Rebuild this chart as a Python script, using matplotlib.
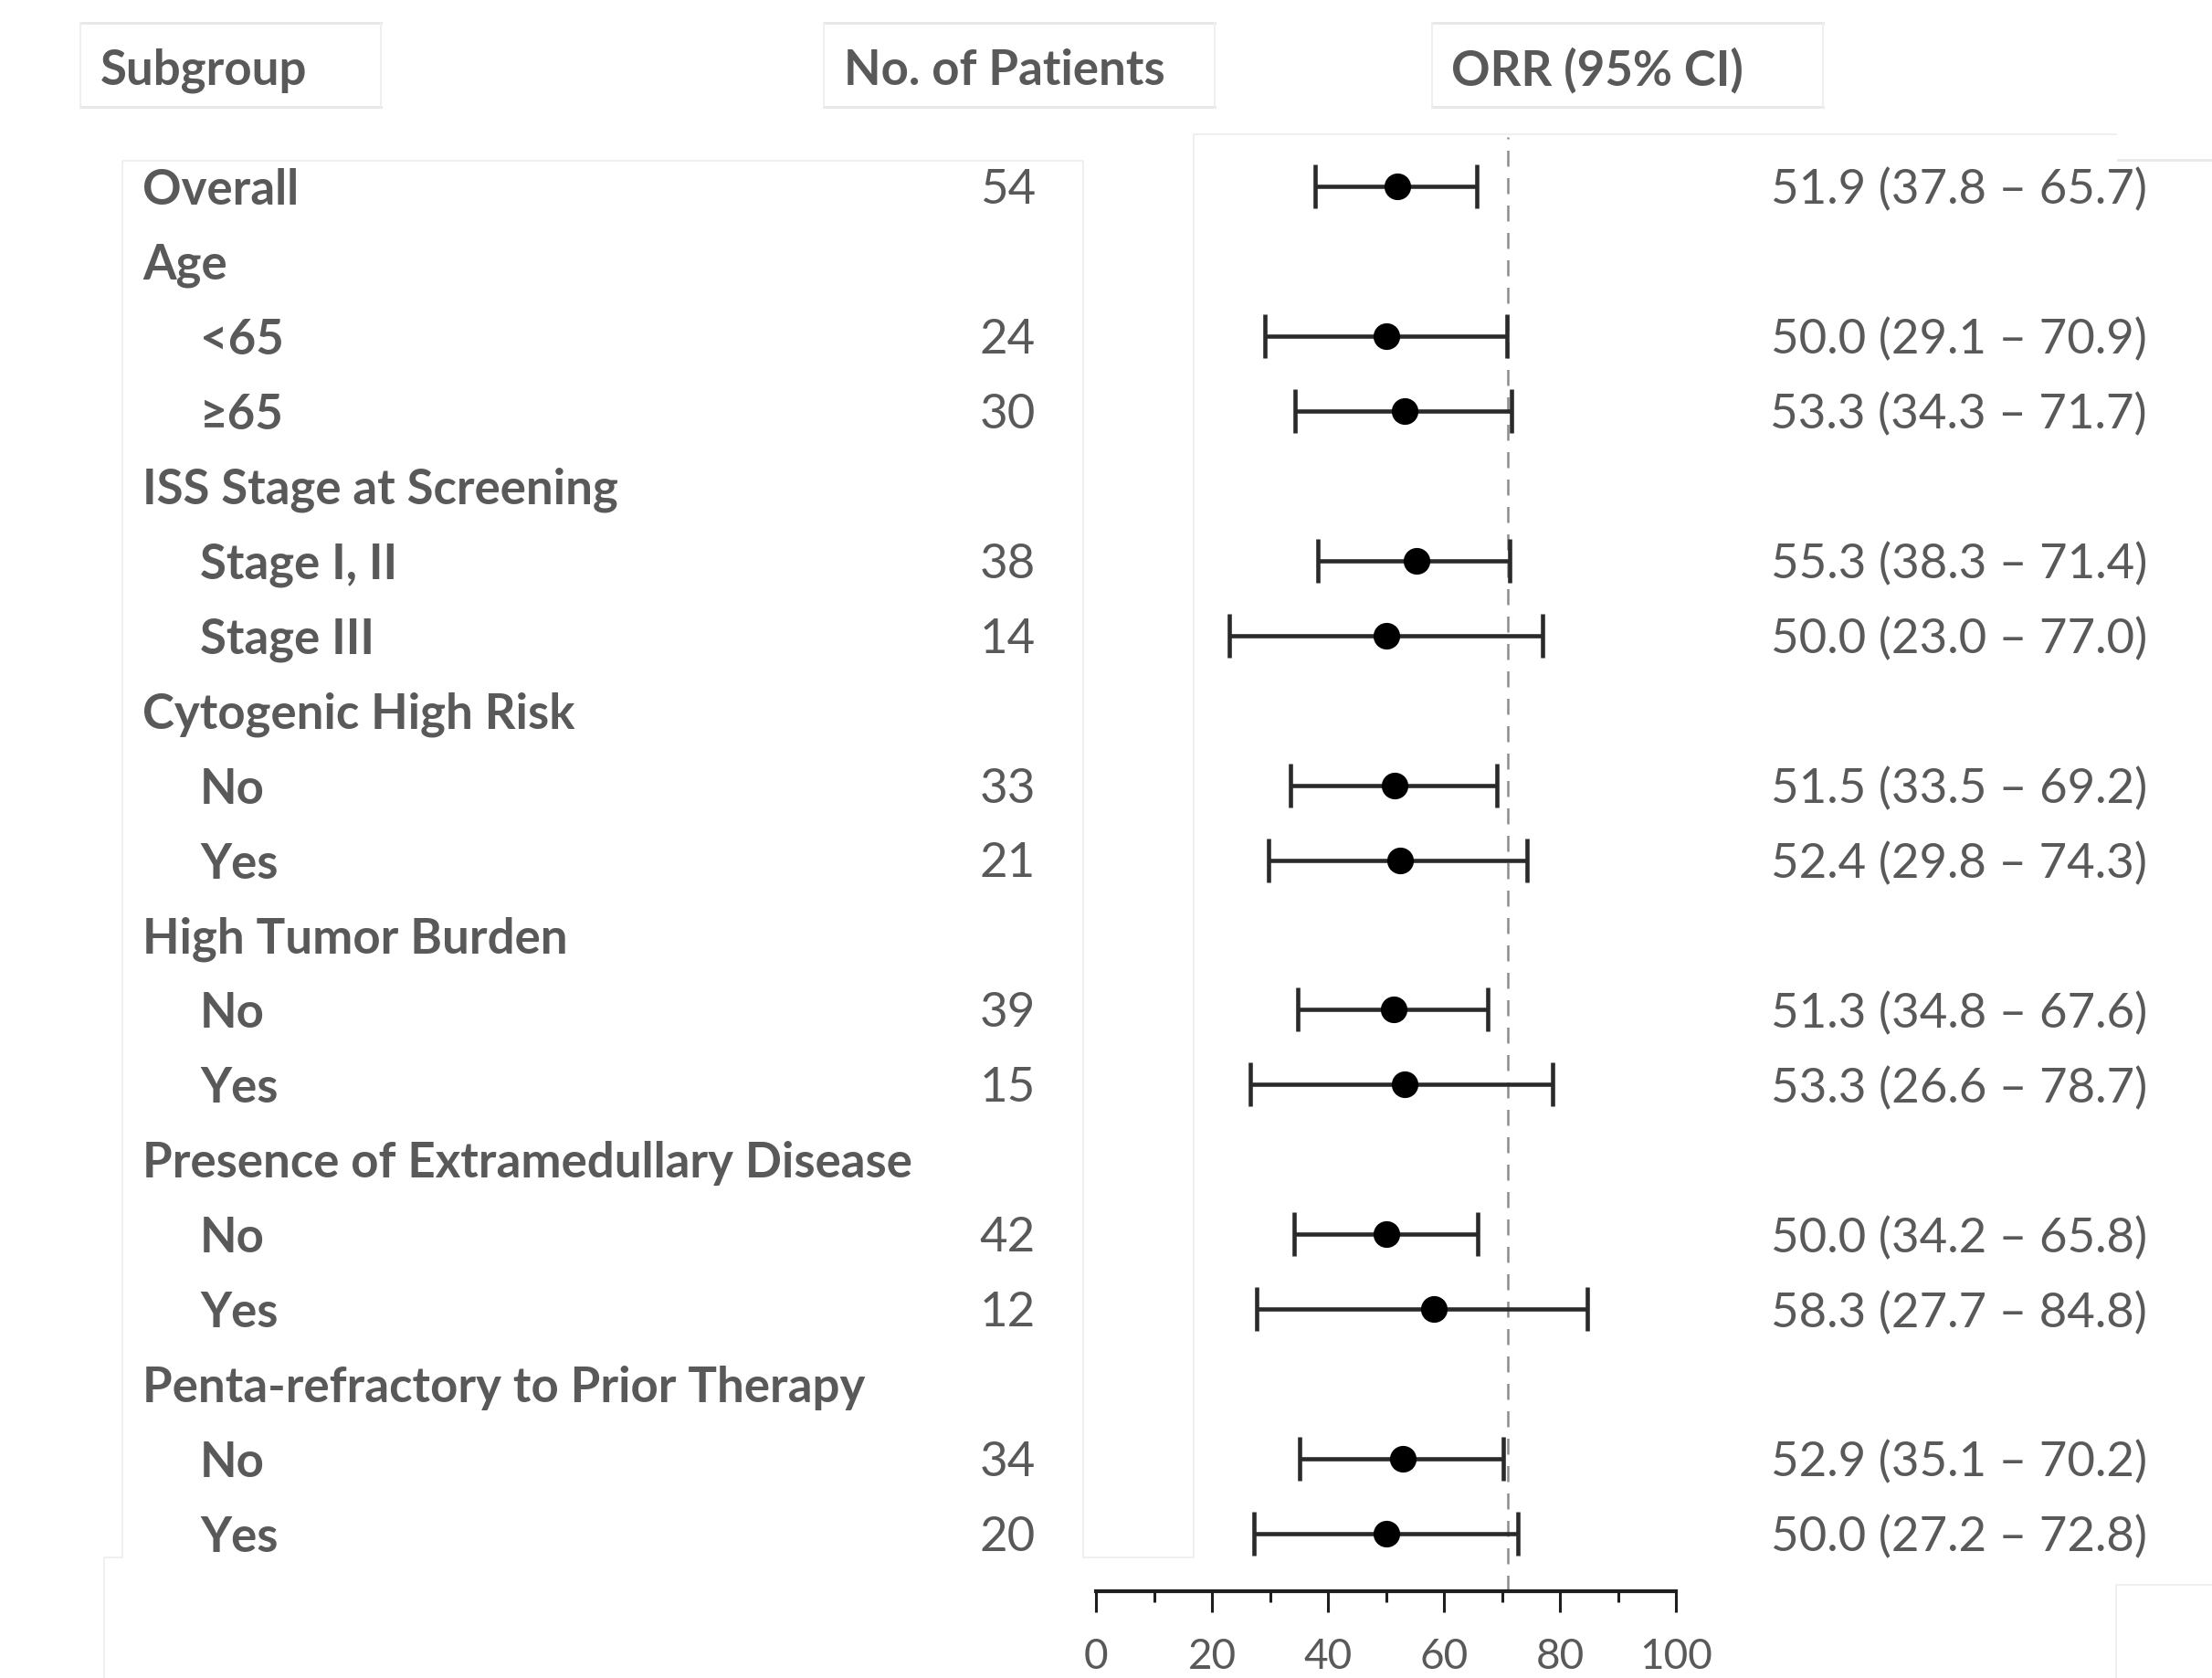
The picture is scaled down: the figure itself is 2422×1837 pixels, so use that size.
import matplotlib
matplotlib.use("Agg")
import matplotlib.pyplot as plt
import matplotlib.transforms as mtransforms
import numpy as np

# ---- data ----
labels = ["Overall", "Age", "<65", "\u226565", "ISS Stage at Screening", "Stage I, II",
          "Stage III", "Cytogenic High Risk", "No", "Yes", "High Tumor Burden", "No", "Yes",
          "Presence of Extramedullary Disease", "No", "Yes",
          "Penta-refractory to Prior Therapy", "No", "Yes"]
indent = [0, 0, 1, 1, 0, 1, 1, 0, 1, 1, 0, 1, 1, 0, 1, 1, 0, 1, 1]
n_patients = ["54", "", "24", "30", "", "38", "14", "", "33", "21", "", "39", "15",
              "", "42", "12", "", "34", "20"]
orr = [51.9, None, 50.0, 53.3, None, 55.3, 50.0, None, 51.5, 52.4, None, 51.3, 53.3,
       None, 50.0, 58.3, None, 52.9, 50.0]
ci_low = [37.8, None, 29.1, 34.3, None, 38.3, 23.0, None, 33.5, 29.8, None, 34.8, 26.6,
          None, 34.2, 27.7, None, 35.1, 27.2]
ci_high = [65.7, None, 70.9, 71.7, None, 71.4, 77.0, None, 69.2, 74.3, None, 67.6, 78.7,
           None, 65.8, 84.8, None, 70.2, 72.8]
ref_line = 71
headers = ["Subgroup", "No. of Patients", "ORR (95% CI)"]
xticks_major = [0, 20, 40, 60, 80, 100]
xticks_minor = [10, 30, 50, 70, 90]

W, H = 2422, 1837
TXT = "#595959"
FONT = "Lato"

fig = plt.figure(figsize=(W / 100, H / 100), dpi=100)

# background axes in pixel coordinates for the faint slide frames
bg = fig.add_axes([0, 0, 1, 1])
bg.set_xlim(0, W)
bg.set_ylim(H, 0)
bg.axis("off")
faint = dict(color="#efefef", lw=1.4)
for x0, x1 in [(88, 417), (902, 1330), (1568, 1996)]:
    bg.plot([x0, x1], [25, 25], color="#e8e8e8", lw=2.2)
    bg.plot([x0, x1], [117, 117], color="#e8e8e8", lw=2.2)
    bg.plot([x0, x0], [25, 117], **faint)
    bg.plot([x1, x1], [25, 117], **faint)
bg.plot([134, 134, 1186, 1186], [1705, 176, 176, 1705], **faint)
bg.plot([1186, 1307, 1307], [1705, 1705, 147], **faint)
bg.plot([1307, 2317], [147, 147], **faint)
bg.plot([134, 114, 114], [1705, 1705, H], **faint)
bg.plot([2319, W], [175, 175], color="#e8e8e8", lw=2)
bg.plot([2317, 2317, W], [H, 1735, 1735], **faint)

# forest plot axes
x0_px, x100_px = 1200, 1835
top_px, axis_px = 150, 1742
row0_px, row18_px = 204, 1679
step = (row18_px - row0_px) / 18
ax = fig.add_axes([x0_px / W, 1 - axis_px / H, (x100_px - x0_px) / W, (axis_px - top_px) / H])
ax.set_xlim(0, 100)
ax.set_ylim(18 + (axis_px - row18_px) / step, -(row0_px - top_px) / step)
ax.patch.set_alpha(0)

rows = np.arange(len(labels))
has = [i for i in rows if orr[i] is not None]
y = np.array(has)
est = np.array([orr[i] for i in has])
lo = np.array([ci_low[i] for i in has])
hi = np.array([ci_high[i] for i in has])

ax.axvline(ref_line, color="#8c8c8c", lw=1.8, linestyle=(0, (7, 5)), zorder=1)
ax.errorbar(est, y, xerr=[est - lo, hi - est], fmt="o", color="black", ms=20,
            ecolor="#2a2a2a", elinewidth=3.3, capsize=17, capthick=3.3, zorder=3)

for s in ["left", "top", "right"]:
    ax.spines[s].set_visible(False)
ax.spines["bottom"].set_linewidth(3.0)
ax.spines["bottom"].set_color("#1e1e1e")
ax.set_yticks([])
ax.set_xticks(xticks_major)
ax.set_xticks(xticks_minor, minor=True)
ax.tick_params(axis="x", which="major", direction="out", length=16.5, width=2.2,
               color="#1e1e1e", pad=20, labelsize=33, labelcolor=TXT)
ax.tick_params(axis="x", which="minor", direction="out", length=8.5, width=2.2,
               color="#1e1e1e")
for lab in ax.get_xticklabels():
    lab.set_fontfamily(FONT)

# text columns: x in figure fraction, y in row units
tr = mtransforms.blended_transform_factory(fig.transFigure, ax.transData)
for i in rows:
    xl = 219 if indent[i] else 156
    ax.text(xl / W, i, labels[i], transform=tr, ha="left", va="center_baseline",
            fontsize=38, fontweight="bold", color=TXT, fontfamily=FONT)
    if n_patients[i]:
        ax.text(1134 / W, i, n_patients[i], transform=tr, ha="right", va="center_baseline",
                fontsize=38, color=TXT, fontfamily=FONT)
    if orr[i] is not None:
        s = f"{orr[i]:.1f} ({ci_low[i]:.1f} \u2013 {ci_high[i]:.1f})"
        ax.text(2351 / W, i, s, transform=tr, ha="right", va="center_baseline",
                fontsize=38, color=TXT, fontfamily=FONT)

for hx, h in zip([110, 924, 1589], headers):
    fig.text(hx / W, 1 - 73 / H, h, ha="left", va="center_baseline", fontsize=38,
             fontweight="bold", color=TXT, fontfamily=FONT)

fig.savefig("out.png", dpi=100)
